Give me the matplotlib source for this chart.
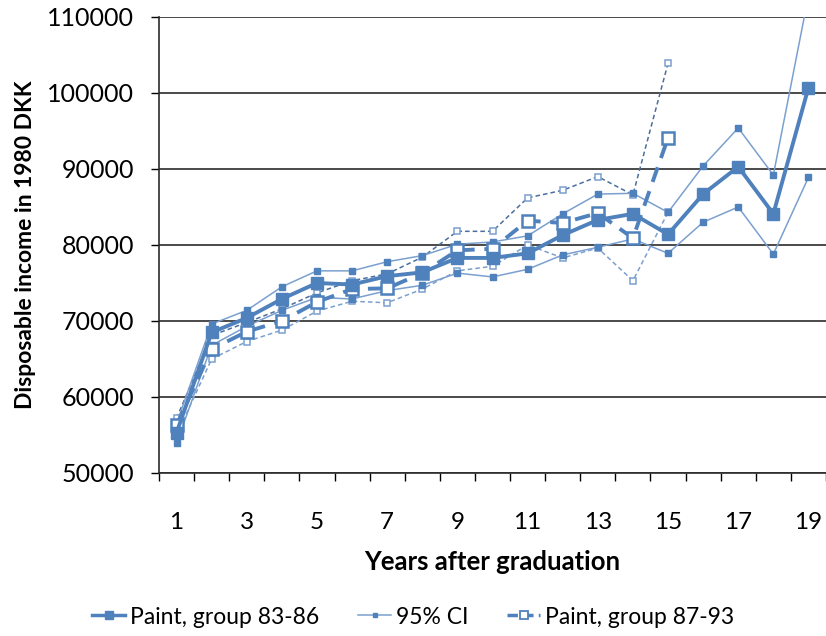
import matplotlib.pyplot as plt
from matplotlib.lines import Line2D
from matplotlib.ticker import MultipleLocator

years = list(range(1, 20))

# Paint, group 83-86 and its 95% CI
paint_8386 = [55300, 68500, 70400, 72900, 75000, 74800, 75900, 76400, 78300, 78300,
              78900, 81300, 83300, 84100, 81400, 86700, 90300, 84100, 100700]
ci_up_8386 = [56500, 69600, 71400, 74500, 76600, 76600, 77800, 78600, 80100, 80400,
              81200, 84100, 86700, 86800, 84300, 90400, 95400, 89200, 112800]
ci_lo_8386 = [53900, 66800, 69300, 71400, 73100, 72900, 74000, 74700, 76300, 75800,
              76800, 78700, 79700, 80800, 78900, 83000, 85000, 78800, 88900]

# Paint, group 87-93 and its 95% CI (years 1-15)
years_8793 = list(range(1, 16))
paint_8793 = [56300, 66300, 68600, 70000, 72500, 74200, 74300, 76300, 79300, 79500,
              83200, 82900, 84200, 80900, 94100]
ci_up_8793 = [57200, 68100, 69800, 71600, 73700, 75300, 76200, 78400, 81800, 81800,
              86200, 87200, 89000, 86600, 103900]
ci_lo_8793 = [55000, 65000, 67300, 68800, 71300, 72600, 72400, 74200, 76600, 77200,
              80000, 78300, 79600, 75300, 84300]

blue = '#4F81BD'
light = '#7BA0CF'
dark = '#4A6E9E'

plt.rcParams['font.family'] = ['Lato', 'DejaVu Sans']

fig = plt.figure(figsize=(8.26, 6.36), dpi=100)
ax = fig.add_axes([159 / 826, 1 - 473 / 636, 667 / 826, 456 / 636])

# confidence bands of group 87-93 (thin dashed, small open squares)
ax.plot(years_8793, ci_up_8793, color=dark, lw=1.1, ls=(0, (3, 2)),
        marker='s', ms=4.5, mfc='white', mec=light, mew=1.1, zorder=3)
ax.plot(years_8793, ci_lo_8793, color=light, lw=1.1, ls=(0, (3, 2)),
        marker='s', ms=4.5, mfc='white', mec=light, mew=1.1, zorder=3)

# confidence bands of group 83-86 (thin solid, small filled squares)
ax.plot(years, ci_up_8386, color=light, lw=1.1, marker='s', ms=5,
        mfc=blue, mec=blue, zorder=4)
ax.plot(years, ci_lo_8386, color=light, lw=1.1, marker='s', ms=5,
        mfc=blue, mec=blue, zorder=4)

# main series
ax.plot(years_8793, paint_8793, color=blue, lw=2.8, ls=(0, (4, 2.5)),
        marker='s', ms=8.5, mfc='white', mec=blue, mew=1.8, zorder=5)
ax.plot(years, paint_8386, color=blue, lw=2.8, marker='s', ms=8.5,
        mfc=blue, mec=blue, zorder=6)

ax.set_xlim(0.5, 19.5)
ax.set_ylim(50000, 110000)
ax.yaxis.set_major_locator(MultipleLocator(10000))
ax.grid(axis='y', color='#2b2b2b', lw=1.2)
ax.set_axisbelow(True)

ax.set_xticks(range(1, 20, 2))
ax.set_xticks([x + 0.5 for x in range(0, 20)], minor=True)
ax.tick_params(axis='x', which='major', length=0, pad=28, labelsize=17.5)
ax.tick_params(axis='x', which='minor', length=6, direction='out', width=1)
ax.tick_params(axis='y', length=6, width=1, labelsize=18, pad=12)

for side in ['top', 'right']:
    ax.spines[side].set_visible(False)
for side in ['left', 'bottom']:
    ax.spines[side].set_color('#2b2b2b')
    ax.spines[side].set_linewidth(1.2)

ax.set_xlabel('Years after graduation', fontsize=18.5, fontweight='bold', labelpad=12)
ax.set_ylabel('Disposable income in 1980 DKK', fontsize=16.5, fontweight='bold', labelpad=8)

handles = [
    Line2D([], [], color=blue, lw=2.5, marker='s', ms=5.5, mfc=blue, mec=blue),
    Line2D([], [], color=light, lw=1.1, marker='s', ms=3.5, mfc=blue, mec=blue),
    Line2D([], [], color=blue, lw=2.5, ls=(0, (3, 1.5)), marker='s', ms=6,
           mfc='white', mec=blue, mew=1.3),
]
labels = ['Paint, group 83-86', '95% CI', 'Paint, group 87-93']
fig.legend(handles, labels, loc='center', bbox_to_anchor=(0.5, 1 - 617 / 636),
           ncol=3, frameon=False, fontsize=16.5, handlelength=1.45,
           handletextpad=0.2, columnspacing=1.7)

fig.savefig('out.png', dpi=100)
